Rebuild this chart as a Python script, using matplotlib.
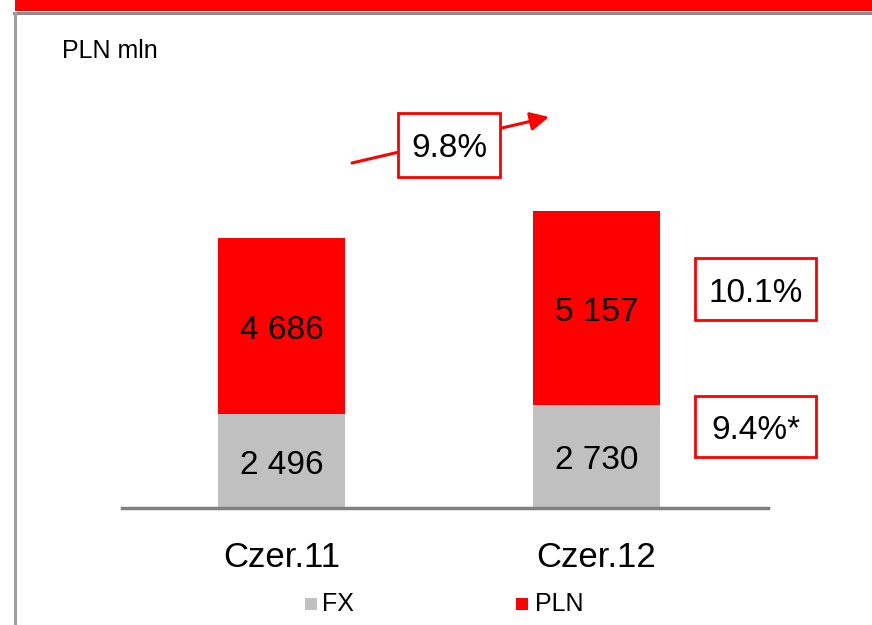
import matplotlib.pyplot as plt
from matplotlib.patches import Rectangle, FancyArrowPatch
from matplotlib.lines import Line2D
from matplotlib.transforms import offset_copy

plt.rcParams['font.family'] = ['Liberation Sans', 'DejaVu Sans']

categories = ['Czer.11', 'Czer.12']
fx = [2496, 2730]
pln = [4686, 5157]
fx_labels = ['2 496', '2 730']
pln_labels = ['4 686', '5 157']

RED = '#FF0000'
GREY = '#C0C0C0'

fig = plt.figure(figsize=(8.72, 6.25), dpi=100)

# frame decoration: red band on top, grey rule, grey left border
fig.patches.append(Rectangle((15/872, 1 - 11/625), 1, 11/625, transform=fig.transFigure,
                             facecolor=RED, edgecolor='none'))
fig.lines.append(Line2D([14/872, 1], [1 - 13/625, 1 - 13/625], transform=fig.transFigure,
                        color='#8C8C8C', lw=2.2))
fig.lines.append(Line2D([15/872, 15/872], [0, 1 - 13/625], transform=fig.transFigure,
                        color='#A0A0A0', lw=2.2))

ax = fig.add_axes([122/872, 117/625, 646/872, 400/625])
x = [0, 1]
ax.bar(x, fx, width=0.403, color=GREY, label='FX')
ax.bar(x, pln, width=0.403, bottom=fx, color=RED, label='PLN')

# labels sit a few pixels below the segment centre
lab_tr = offset_copy(ax.transData, fig=fig, x=0, y=-4, units='dots')
for i in x:
    ax.text(i, fx[i] / 2, fx_labels[i], ha='center', va='center', fontsize=24,
            transform=lab_tr)
    ax.text(i, fx[i] + pln[i] / 2, pln_labels[i], ha='center', va='center', fontsize=24,
            transform=lab_tr)

ax.set_xlim(-0.506, 1.544)
ax.set_ylim(0, 10638)
for s in ['top', 'right', 'left']:
    ax.spines[s].set_visible(False)
ax.spines['bottom'].set_color('#808080')
ax.spines['bottom'].set_linewidth(2.5)
ax.set_yticks([])
ax.set_xticks(x)
ax.set_xticklabels(categories, fontsize=25)
ax.tick_params(axis='x', length=0, pad=24)

fig.text(62/872, 1 - 51/625, 'PLN mln', fontsize=18, va='center', ha='left')

# growth arrow with box
fig.patches.append(FancyArrowPatch(
    (352/872, 1 - 163/625), (549/872, 1 - 117/625), transform=fig.transFigure,
    arrowstyle='-|>', mutation_scale=28, color=RED, lw=2.2, shrinkA=0, shrinkB=0))

def box(x0, y0, x1, y1, label):
    fig.patches.append(Rectangle((x0/872, 1 - y1/625), (x1 - x0)/872, (y1 - y0)/625,
                                 transform=fig.transFigure, facecolor='white',
                                 edgecolor=RED, lw=2, zorder=3))
    fig.text((x0 + x1) / 2 / 872, 1 - ((y0 + y1) / 2 + 4) / 625, label, ha='center',
             va='center', fontsize=24, zorder=4)

box(398, 113, 500, 177, '9.8%')
box(695, 258, 816, 320, '10.1%')
box(695, 396, 816, 457, '9.4%*')

# legend
fig.patches.append(Rectangle((305/872, 1 - 610/625), 12/872, 12/625,
                             transform=fig.transFigure, facecolor=GREY, edgecolor='none'))
fig.text(322/872, 1 - 604/625, 'FX', fontsize=18, va='center', ha='left')
fig.patches.append(Rectangle((516/872, 1 - 610/625), 12/872, 12/625,
                             transform=fig.transFigure, facecolor=RED, edgecolor='none'))
fig.text(535/872, 1 - 604/625, 'PLN', fontsize=18, va='center', ha='left')

fig.savefig('out.png', dpi=100)
